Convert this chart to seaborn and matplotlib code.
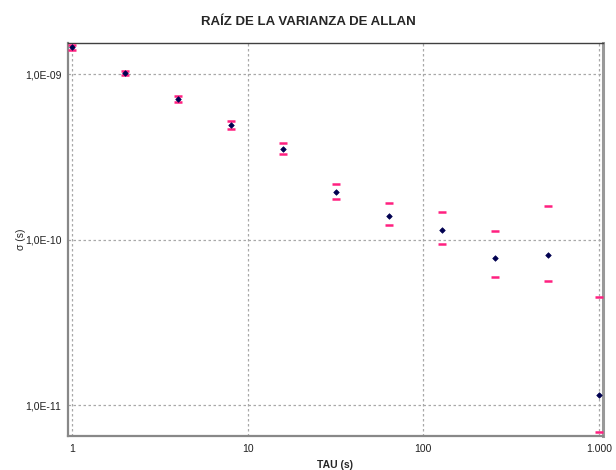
import numpy as np
import pandas as pd
import matplotlib
matplotlib.use("Agg")
import matplotlib.pyplot as plt
import seaborn as sns
from matplotlib.ticker import FixedLocator, FixedFormatter, LogLocator, NullFormatter

tau = [1, 2, 4, 8, 16, 32, 64, 128, 256, 512, 1000]
sigma = [1.455e-9, 1.02e-9, 7.06e-10, 4.93e-10, 3.52e-10, 1.93e-10, 1.39e-10,
         1.145e-10, 7.73e-11, 8.09e-11, 1.154e-11]
upper = [1.50e-9, 1.05e-9, 7.40e-10, 5.25e-10, 3.83e-10, 2.17e-10, 1.67e-10,
         1.48e-10, 1.13e-10, 1.60e-10, 4.48e-11]
lower = [1.41e-9, 0.99e-9, 6.75e-10, 4.65e-10, 3.30e-10, 1.75e-10, 1.22e-10,
         9.42e-11, 5.92e-11, 5.65e-11, 6.84e-12]

xticks = [1, 10, 100, 1000]
xticklabels = ["1", "10", "100", "1.000"]
yticks = [1e-11, 1e-10, 1e-9]
yticklabels = ["1,0E-11", "1,0E-10", "1,0E-09"]

sns.set_style("white")
plt.rcParams['font.family'] = ['Liberation Sans', 'DejaVu Sans']

fig = plt.figure(figsize=(6.16, 4.70), dpi=100)
ax = fig.add_axes([0.110, 0.0723, 0.869, 0.8362])

df = pd.DataFrame({"tau": tau, "sigma": sigma, "upper": upper, "lower": lower})
pink = "#ff2080"
sns.scatterplot(data=df, x="tau", y="upper", marker="_", s=30, color=pink,
                linewidth=1.8, ax=ax, zorder=3)
sns.scatterplot(data=df, x="tau", y="lower", marker="_", s=30, color=pink,
                linewidth=1.8, ax=ax, zorder=3)
sns.scatterplot(data=df, x="tau", y="sigma", marker="D", s=8, color="#000050",
                edgecolor="#000050", linewidth=0.5, ax=ax, zorder=4)

ax.set_xscale("log")
ax.set_yscale("log")
ax.set_xlim(0.948, 1054)
ax.set_ylim(6.5e-12, 1.545e-9)

ax.xaxis.set_major_locator(FixedLocator(xticks))
ax.xaxis.set_major_formatter(FixedFormatter(xticklabels))
ax.xaxis.set_minor_locator(LogLocator(base=10, subs=np.arange(2, 10)))
ax.xaxis.set_minor_formatter(NullFormatter())
ax.yaxis.set_major_locator(FixedLocator(yticks))
ax.yaxis.set_major_formatter(FixedFormatter(yticklabels))
ax.yaxis.set_minor_locator(LogLocator(base=10, subs=np.arange(2, 10)))
ax.yaxis.set_minor_formatter(NullFormatter())

ax.grid(True, which="major", linestyle=(0, (2, 2)), color="#a8a8a8", linewidth=0.9)
ax.tick_params(axis="both", which="major", labelsize=7.5, length=3, width=0.8,
               color="#808080", direction="out", labelcolor="#202020", pad=1.5)
ax.tick_params(axis="x", which="major", pad=3)
ax.tick_params(axis="both", which="minor", length=2.5, width=0.8, color="#808080",
               direction="in")

for side, sp in ax.spines.items():
    sp.set_visible(True)
ax.spines["top"].set_color("#404040")
ax.spines["top"].set_linewidth(1.0)
ax.spines["right"].set_color("#999999")
ax.spines["right"].set_linewidth(2.2)
ax.spines["left"].set_color("#888888")
ax.spines["left"].set_linewidth(1.6)
ax.spines["bottom"].set_color("#888888")
ax.spines["bottom"].set_linewidth(1.6)

ax.set_xlabel("TAU (s)", fontsize=7.5, fontweight="bold", labelpad=4)
ax.set_ylabel("σ (s)", fontsize=7.5)
ax.yaxis.set_label_coords(-0.078, 0.5)
fig.suptitle("RAÍZ DE LA VARIANZA DE ALLAN", fontsize=9.5, fontweight="bold",
             y=0.965)

fig.savefig("out.png", dpi=100)
